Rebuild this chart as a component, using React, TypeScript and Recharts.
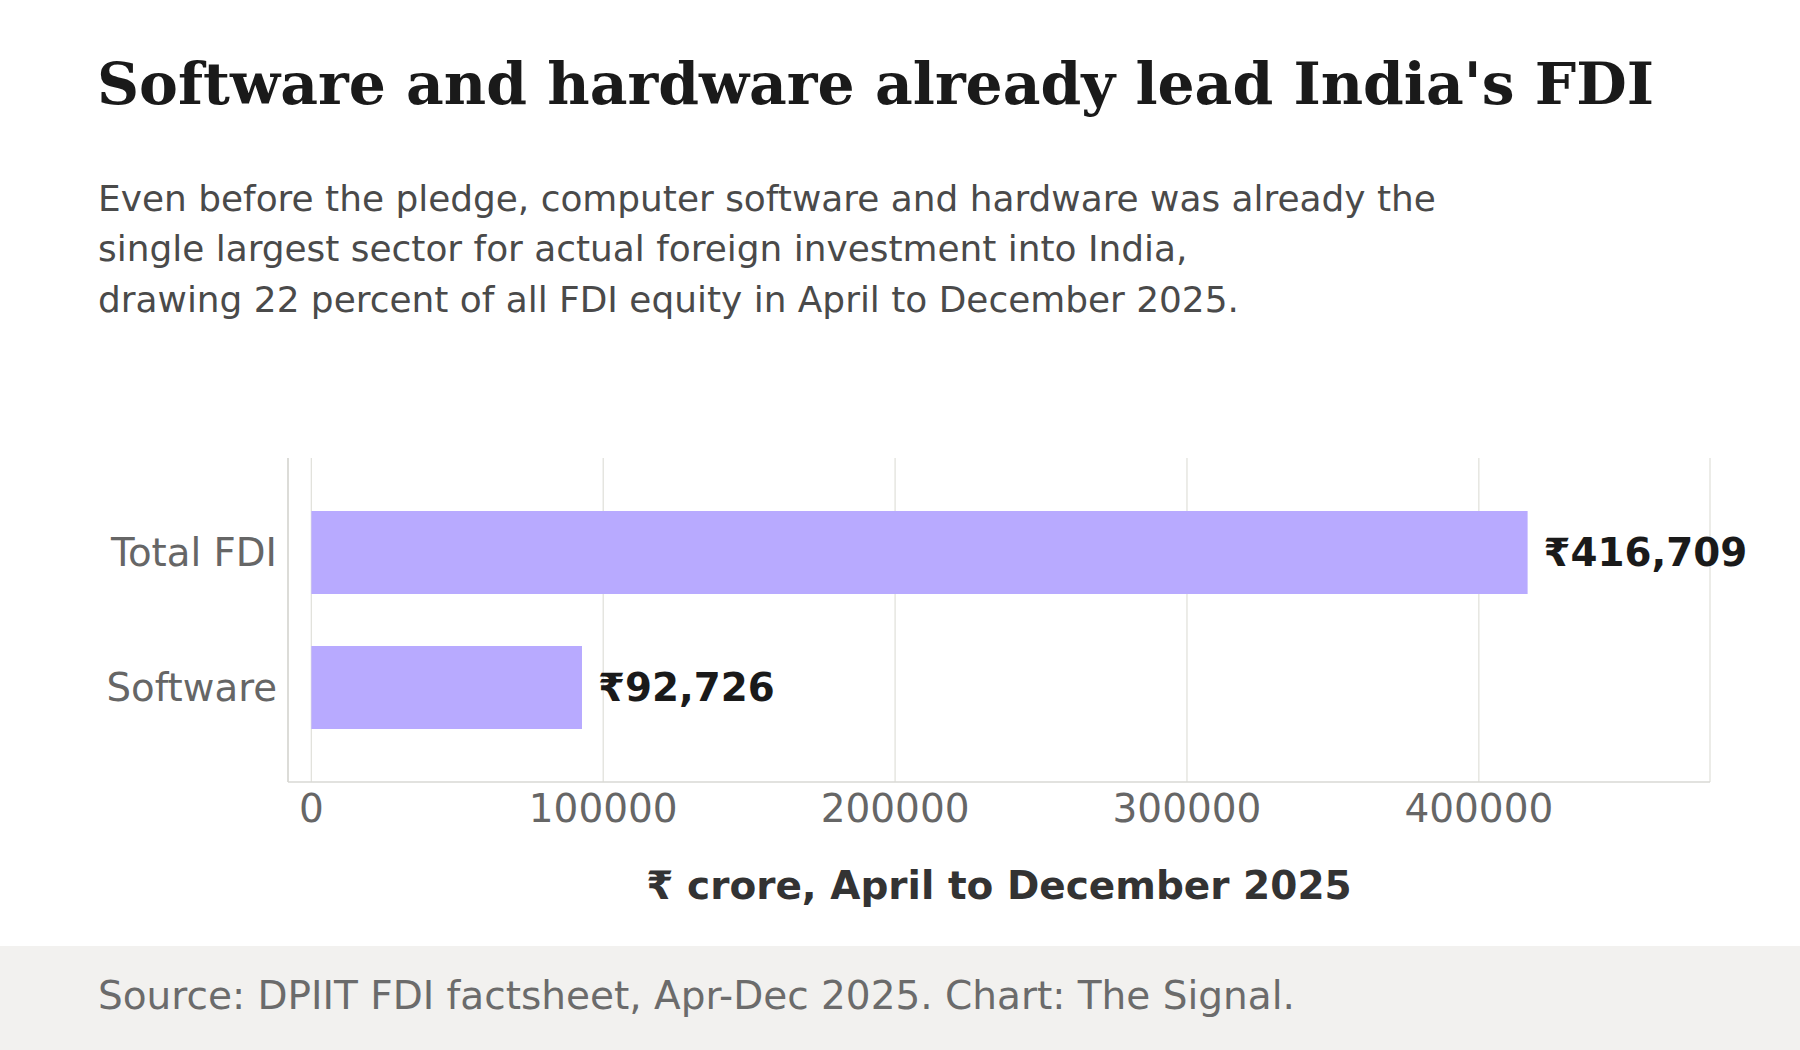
import React from 'react';
import { BarChart, Bar, XAxis, YAxis, CartesianGrid, LabelList } from 'recharts';

const categories = ['Total FDI', 'Software'];
const values = [416709, 92726];
const xTicks = [0, 100000, 200000, 300000, 400000];

const data = categories.map((name, i) => ({ name, value: values[i] }));

const SANS = '"DejaVu Sans", sans-serif';
const SERIF = '"DejaVu Serif", serif';

const fmtRupee = (v: number) => '\u20B9' + v.toLocaleString('en-US');

const App = () => {
  return (
    <div
      style={{
        position: 'absolute',
        left: 0,
        top: 0,
        width: 1800,
        height: 1050,
        background: '#ffffff',
        overflow: 'hidden',
      }}
    >
      <div
        style={{
          position: 'absolute',
          left: 97,
          top: 55,
          fontFamily: SERIF,
          fontWeight: 'bold',
          fontSize: 58.3,
          lineHeight: '58.3px',
          color: '#1a1a1a',
          whiteSpace: 'nowrap',
        }}
      >
        Software and hardware already lead India's FDI
      </div>
      <div
        style={{
          position: 'absolute',
          left: 98,
          top: 173.5,
          fontFamily: SANS,
          fontSize: 35.9,
          lineHeight: '50.5px',
          color: '#4a4a4a',
          whiteSpace: 'nowrap',
        }}
      >
        Even before the pledge, computer software and hardware was already the
        <br />
        single largest sector for actual foreign investment into India,
        <br />
        drawing 22 percent of all FDI equity in April to December 2025.
      </div>

      <div style={{ position: 'absolute', left: 0, top: 0 }}>
        <BarChart
          width={1800}
          height={946}
          data={data}
          layout="vertical"
          margin={{ top: 458, right: 90, bottom: 0, left: 0 }}
          barCategoryGap={0}
        >
          <CartesianGrid horizontal={false} stroke="#e2e2dc" strokeWidth={1.3} />
          <XAxis
            type="number"
            domain={[-8000, 479200]}
            ticks={xTicks}
            allowDataOverflow
            height={164}
            tickLine={false}
            tickSize={0}
            tickMargin={12}
            axisLine={{ stroke: '#d9d9d4', strokeWidth: 1.6 }}
            tick={{ fill: '#666666', fontSize: 39, fontFamily: SANS }}
            label={{
              value: '\u20B9 crore, April to December 2025',
              position: 'insideTop',
              offset: 89,
              fill: '#333333',
              fontSize: 39,
              fontWeight: 'bold',
              fontFamily: SANS,
            }}
          />
          <YAxis
            type="category"
            dataKey="name"
            width={288}
            padding={{ top: 27, bottom: 27 }}
            tickLine={false}
            tickSize={0}
            tickMargin={11}
            axisLine={{ stroke: '#d9d9d4', strokeWidth: 1.6 }}
            tick={{ fill: '#666666', fontSize: 38.7, fontFamily: SANS }}
          />
          <Bar dataKey="value" fill="#b8aaff" barSize={83} isAnimationActive={false}>
            <LabelList
              dataKey="value"
              position="right"
              offset={16}
              formatter={(v: any) => fmtRupee(Number(v))}
              style={{ fill: '#1a1a1a', fontSize: 38.8, fontWeight: 'bold', fontFamily: SANS }}
            />
          </Bar>
        </BarChart>
      </div>

      <div
        style={{
          position: 'absolute',
          left: 0,
          top: 946,
          width: 1800,
          height: 104,
          background: '#f2f1ef',
        }}
      />
      <div
        style={{
          position: 'absolute',
          left: 98,
          top: 976,
          fontFamily: SANS,
          fontSize: 39,
          lineHeight: '39px',
          color: '#6b6b6b',
          whiteSpace: 'nowrap',
        }}
      >
        Source: DPIIT FDI factsheet, Apr-Dec 2025. Chart: The Signal.
      </div>
    </div>
  );
};

export default App;
